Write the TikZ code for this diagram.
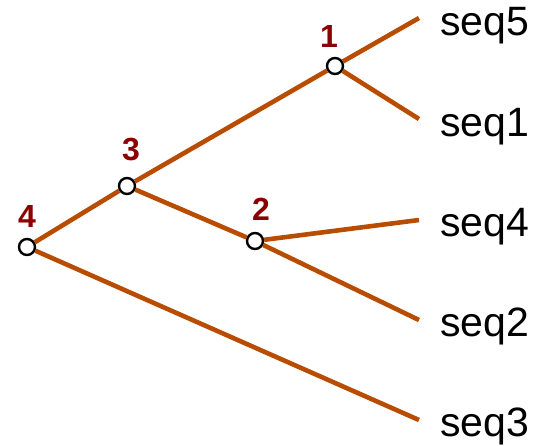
\documentclass[tikz,border=0pt]{standalone}
\usepackage{fontspec}
\setmainfont{Liberation Sans}
\definecolor{branch}{RGB}{184,76,0}
\definecolor{lab}{RGB}{139,0,0}
\begin{document}
\begin{tikzpicture}[x=1pt,y=-1pt,
  inner/.style={circle,draw=black,line width=2.4pt,fill=white,minimum size=16pt,inner sep=0pt},
  br/.style={draw=branch,line width=4.6pt},
  num/.style={text=lab,font=\fontsize{32}{32}\selectfont\bfseries,inner sep=0pt},
  leaf/.style={anchor=base west,font=\fontsize{41}{41}\selectfont,inner sep=0pt}]
\useasboundingbox (0,0) rectangle (535,445);
\coordinate (e5) at (419,18);
\coordinate (e1) at (419,119);
\coordinate (e4) at (419,220);
\coordinate (e2) at (419,320);
\coordinate (e3) at (419,420);
\node[inner] (n4) at (27,247) {};
\node[inner] (n3) at (127,186) {};
\node[inner] (n2) at (255,241) {};
\node[inner] (n1) at (335,66) {};
\draw[br] (n4) -- (n3);
\draw[br] (n4) -- (e3);
\draw[br] (n3) -- (n1);
\draw[br] (n3) -- (n2);
\draw[br] (n1) -- (e5);
\draw[br] (n1) -- (e1);
\draw[br] (n2) -- (e4);
\draw[br] (n2) -- (e2);
\node[num] (l4) at (27,216) {4};
\node[num] (l3) at (131,150) {3};
\node[num] (l2) at (261,209) {2};
\node[num] (l1) at (329,36) {1};
\node[leaf] (s5) at (440,35) {seq5};
\node[leaf] (s1) at (440,136) {seq1};
\node[leaf] (s4) at (440,236) {seq4};
\node[leaf] (s2) at (440,336) {seq2};
\node[leaf] (s3) at (440,436) {seq3};
\end{tikzpicture}
\end{document}
